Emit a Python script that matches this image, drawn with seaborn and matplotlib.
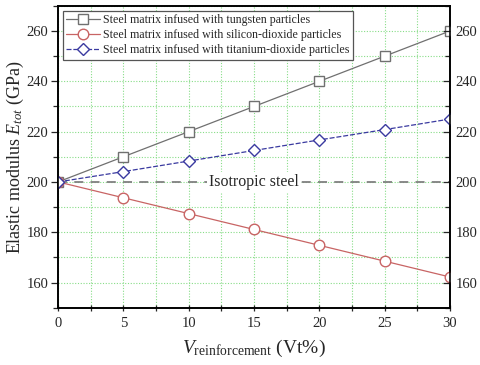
import matplotlib
matplotlib.use("Agg")
import matplotlib.pyplot as plt
import seaborn as sns
import pandas as pd
from matplotlib.ticker import MultipleLocator

sns.set_style("white")
plt.rcParams['font.family'] = ['Liberation Serif', 'DejaVu Serif']
plt.rcParams['mathtext.fontset'] = 'custom'
plt.rcParams['mathtext.rm'] = 'Liberation Serif'
plt.rcParams['mathtext.it'] = 'Liberation Serif:italic'

v_reinf = [0, 5, 10, 15, 20, 25, 30]
tungsten = [200, 210, 220, 230, 240, 250, 260]
silicon = [200, 193.7, 187.4, 181.1, 174.8, 168.5, 162.2]
titanium = [200, 204.1, 208.3, 212.5, 216.7, 220.8, 225.0]
isotropic = 200
labels = ["Steel matrix infused with tungsten particles",
          "Steel matrix infused with silicon-dioxide particles",
          "Steel matrix infused with titanium-dioxide particles"]
colors = ["#707070", "#c86464", "#3a3aa0"]
markers = ["s", "o", "D"]
linestyles = ["-", "-", (0, (4, 1.5))]
msizes = [7.2, 7.6, 6.6]

fig = plt.figure(figsize=(4.8, 3.65), dpi=100)
ax = fig.add_axes([0.121, 0.157, 0.8165, 0.827])

for vals, lab, c, m, ls, ms in zip([tungsten, silicon, titanium], labels, colors, markers, linestyles, msizes):
    df = pd.DataFrame({"x": v_reinf, "y": vals})
    sns.lineplot(data=df, x="x", y="y", ax=ax, color=c, marker=m, markersize=ms,
                 markerfacecolor="white", markeredgecolor=c, markeredgewidth=1.0,
                 linewidth=0.9, linestyle=ls, label=lab, zorder=3)

ax.axhline(isotropic, color="#808080", linestyle=(0, (5, 4)), linewidth=1.3, zorder=2)
ax.text(15, isotropic, "Isotropic steel", ha="center", va="center", fontsize=11.5,
        bbox=dict(facecolor="white", edgecolor="none", pad=1.5), zorder=2.5)

ax.set_xlim(0, 30)
ax.set_ylim(150, 270)
ax.xaxis.set_major_locator(MultipleLocator(5))
ax.xaxis.set_minor_locator(MultipleLocator(2.5))
ax.yaxis.set_major_locator(MultipleLocator(20))
ax.yaxis.set_minor_locator(MultipleLocator(10))
ax.grid(True, which="both", color="#88dd88", linestyle=(0, (1, 1.5)), linewidth=0.8, zorder=0)
ax.set_axisbelow(True)

ax.tick_params(axis="x", which="both", direction="inout", bottom=True, top=False,
               labelsize=10.5, length=5, width=0.9, pad=4)
ax.tick_params(axis="x", which="minor", length=4)
ax.tick_params(axis="y", which="both", left=True, right=False,
               direction="out", labelsize=10.5, length=5, width=0.9, pad=2)
ax.tick_params(axis="y", which="minor", length=3.5)

ax2 = ax.twinx()
ax2.set_ylim(ax.get_ylim())
ax2.yaxis.set_major_locator(MultipleLocator(20))
ax2.yaxis.set_minor_locator(MultipleLocator(10))
ax2.tick_params(axis="y", which="both", direction="in", labelsize=10.5, length=5, width=0.9, pad=4)
ax2.tick_params(axis="y", which="minor", length=3.5)
ax2.grid(False)

for a in (ax, ax2):
    for sp in a.spines.values():
        sp.set_color("black")
        sp.set_linewidth(1.2)

ax.set_xlabel(r"$\mathit{V}_{\mathrm{reinforcement}}$ (Vt%)", fontsize=14, labelpad=6)
ax.set_ylabel(r"Elastic modulus $\mathit{E}_{\mathit{tot}}$ (GPa)", fontsize=13)
ax.yaxis.set_label_coords(-0.082, 0.5)

leg = ax.legend(loc="upper left", fontsize=8.6, frameon=True, fancybox=False,
                edgecolor="#555555", borderpad=0.3, labelspacing=0.25,
                handlelength=2.8, borderaxespad=0.4, handletextpad=0.3)
leg.get_frame().set_linewidth(0.9)
leg.get_frame().set_alpha(1)

fig.savefig("out.png", dpi=100)
